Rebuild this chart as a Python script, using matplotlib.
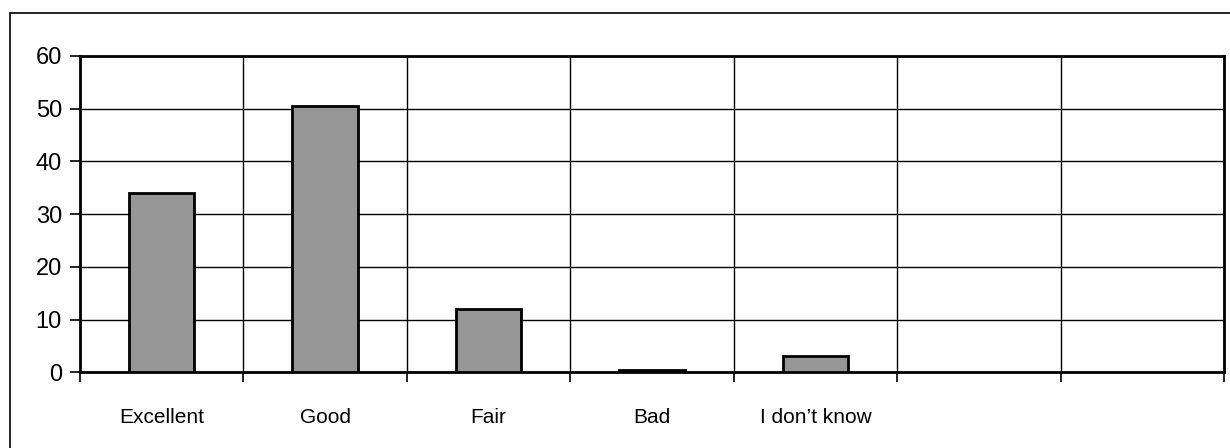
import numpy as np
import matplotlib.pyplot as plt
from matplotlib.patches import Rectangle

plt.rcParams['font.family'] = ['Liberation Sans', 'DejaVu Sans']

categories = ['Excellent', 'Good', 'Fair', 'Bad', 'I don\u2019t know', '', '']
values = [34, 50.6, 12, 0.4, 3, 0, 0]
yticks = [0, 10, 20, 30, 40, 50, 60]

fig = plt.figure(figsize=(12.3, 4.48), dpi=100)
ax = fig.add_axes([80 / 1230, 1 - 372.3 / 448, 1144 / 1230, (372.3 - 56) / 448])

# frame around the whole chart (runs off the right and bottom edges)
fig.patches.append(Rectangle((10 / 1230, -0.1), 1.2, 1.1 - 13 / 448,
                             transform=fig.transFigure, fill=False,
                             edgecolor='black', linewidth=1.2))

x = np.arange(len(categories))
n = len(values)
ax.bar(x[:5], values[:5], width=0.4, color='#969696', edgecolor='black',
       linewidth=2, zorder=3)

ax.set_xlim(-0.5, n - 0.5)
ax.set_ylim(0, 60)
ax.set_yticks(yticks)
ax.set_xticks(x)
ax.set_xticklabels(categories)
ax.set_xticks(np.arange(n + 1) - 0.5, minor=True)

ax.tick_params(axis='x', which='major', length=0, pad=26, labelsize=15)
ax.tick_params(axis='x', which='minor', length=7, width=1.2, direction='out')
ax.tick_params(axis='y', length=7, width=1.2, direction='out', labelsize=17, pad=6)

ax.grid(axis='y', color='black', linewidth=1, zorder=0)
ax.grid(axis='x', which='minor', color='black', linewidth=1, zorder=0)
ax.set_axisbelow(True)

for s in ax.spines.values():
    s.set_linewidth(2)

fig.savefig('out.png', dpi=100)
